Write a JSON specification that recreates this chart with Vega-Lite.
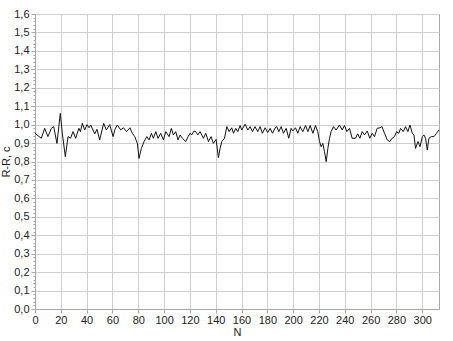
{
  "$schema": "https://vega.github.io/schema/vega-lite/v6.json",
  "autosize": "none",
  "width": 404,
  "height": 295,
  "padding": {"left": 35, "top": 14, "right": 14, "bottom": 32},
  "background": "white",
  "config": {
    "view": {"stroke": "#a8a8a8", "strokeWidth": 1},
    "font": "Liberation Sans",
    "axis": {
      "labelFont": "Liberation Sans",
      "labelFontSize": 11,
      "labelColor": "#222222",
      "titleFont": "Liberation Sans",
      "titleFontSize": 11,
      "titleFontWeight": "normal",
      "titleColor": "#222222",
      "gridColor": "#cfcfcf",
      "gridWidth": 1,
      "domainColor": "#a8a8a8",
      "tickColor": "#a8a8a8"
    }
  },
  "data": {
    "values": [
      {"N": 0, "v": 0.953}, {"N": 2.3, "v": 0.94}, {"N": 4.9, "v": 0.926}, {"N": 7.5, "v": 0.98},
      {"N": 10, "v": 0.935}, {"N": 12.7, "v": 0.98}, {"N": 14.5, "v": 0.989}, {"N": 17, "v": 0.898},
      {"N": 19.6, "v": 1.061}, {"N": 21.2, "v": 0.95}, {"N": 23.5, "v": 0.826}, {"N": 25.6, "v": 0.935},
      {"N": 27.5, "v": 0.926}, {"N": 29.5, "v": 0.962}, {"N": 31.5, "v": 0.926}, {"N": 34, "v": 0.98},
      {"N": 35.2, "v": 0.962}, {"N": 36.7, "v": 1.007}, {"N": 38.5, "v": 0.971}, {"N": 40.3, "v": 1.0},
      {"N": 41.9, "v": 0.983}, {"N": 43.2, "v": 0.998}, {"N": 46.3, "v": 0.95}, {"N": 48, "v": 0.975},
      {"N": 50.1, "v": 0.917}, {"N": 53.2, "v": 1.007}, {"N": 55.3, "v": 0.971}, {"N": 57.9, "v": 1.0},
      {"N": 60.5, "v": 0.935}, {"N": 62, "v": 0.975}, {"N": 63.8, "v": 0.998}, {"N": 66.4, "v": 0.971},
      {"N": 68.5, "v": 0.983}, {"N": 71, "v": 0.962}, {"N": 73.6, "v": 0.983}, {"N": 75.4, "v": 0.953},
      {"N": 77.3, "v": 0.935}, {"N": 79.3, "v": 0.898}, {"N": 80.6, "v": 0.817}, {"N": 82.4, "v": 0.871},
      {"N": 84.5, "v": 0.908}, {"N": 86.6, "v": 0.935}, {"N": 88.4, "v": 0.917}, {"N": 90.2, "v": 0.953},
      {"N": 91.7, "v": 0.926}, {"N": 93.6, "v": 0.962}, {"N": 95.3, "v": 0.926}, {"N": 97.4, "v": 0.953},
      {"N": 99.5, "v": 0.917}, {"N": 101.3, "v": 0.962}, {"N": 103.9, "v": 0.935}, {"N": 105.7, "v": 0.98},
      {"N": 107.2, "v": 0.944}, {"N": 109, "v": 0.962}, {"N": 110.8, "v": 0.917}, {"N": 112.4, "v": 0.944},
      {"N": 114.2, "v": 0.926}, {"N": 116.8, "v": 0.908}, {"N": 118.6, "v": 0.935}, {"N": 120.2, "v": 0.953},
      {"N": 121.4, "v": 0.944}, {"N": 123.2, "v": 0.965}, {"N": 124.5, "v": 0.962}, {"N": 126.1, "v": 0.944},
      {"N": 127.9, "v": 0.962}, {"N": 130.5, "v": 0.926}, {"N": 132.3, "v": 0.953}, {"N": 134.4, "v": 0.908},
      {"N": 136.4, "v": 0.935}, {"N": 138.2, "v": 0.898}, {"N": 140.3, "v": 0.92}, {"N": 142.1, "v": 0.821},
      {"N": 143.4, "v": 0.87}, {"N": 144.7, "v": 0.908}, {"N": 146.8, "v": 0.926}, {"N": 148.6, "v": 0.989},
      {"N": 150.4, "v": 0.962}, {"N": 152.4, "v": 0.983}, {"N": 153.8, "v": 0.953}, {"N": 155.5, "v": 0.98},
      {"N": 157.1, "v": 0.962}, {"N": 158.9, "v": 0.995}, {"N": 160.2, "v": 0.971}, {"N": 162.8, "v": 1.002},
      {"N": 164.9, "v": 0.971}, {"N": 166.7, "v": 0.989}, {"N": 168.5, "v": 0.962}, {"N": 170.5, "v": 0.989},
      {"N": 172.6, "v": 0.962}, {"N": 174.4, "v": 0.989}, {"N": 176.2, "v": 0.953}, {"N": 178.3, "v": 0.983},
      {"N": 180.3, "v": 0.958}, {"N": 182.2, "v": 0.98}, {"N": 184, "v": 0.953}, {"N": 186.1, "v": 0.983},
      {"N": 187.3, "v": 0.989}, {"N": 188.9, "v": 0.962}, {"N": 190.7, "v": 0.989}, {"N": 192.5, "v": 0.953},
      {"N": 194.6, "v": 0.98}, {"N": 196.6, "v": 0.926}, {"N": 198.4, "v": 0.98}, {"N": 199.7, "v": 0.965},
      {"N": 201.8, "v": 0.983}, {"N": 203.6, "v": 0.953}, {"N": 205.4, "v": 0.989}, {"N": 207.5, "v": 0.962},
      {"N": 209.6, "v": 0.995}, {"N": 211.4, "v": 0.962}, {"N": 213.2, "v": 0.995}, {"N": 215.3, "v": 0.953},
      {"N": 217.3, "v": 0.995}, {"N": 219.1, "v": 0.962}, {"N": 220.4, "v": 0.908}, {"N": 221.7, "v": 0.88},
      {"N": 223, "v": 0.898}, {"N": 224.3, "v": 0.853}, {"N": 225.6, "v": 0.799}, {"N": 226.9, "v": 0.871},
      {"N": 228.2, "v": 0.926}, {"N": 229.4, "v": 0.962}, {"N": 231.3, "v": 0.989}, {"N": 233.3, "v": 0.971},
      {"N": 235.9, "v": 0.998}, {"N": 238, "v": 0.971}, {"N": 239.8, "v": 0.995}, {"N": 241.6, "v": 0.962},
      {"N": 243.7, "v": 0.98}, {"N": 245.7, "v": 0.926}, {"N": 248.3, "v": 0.926}, {"N": 250, "v": 0.95},
      {"N": 251.7, "v": 0.926}, {"N": 253.5, "v": 0.962}, {"N": 255.3, "v": 0.944}, {"N": 257.4, "v": 0.965},
      {"N": 259.4, "v": 0.926}, {"N": 261.2, "v": 0.953}, {"N": 263, "v": 0.935}, {"N": 265.1, "v": 0.98},
      {"N": 267.2, "v": 0.983}, {"N": 268.8, "v": 0.989}, {"N": 270.8, "v": 0.953}, {"N": 272.9, "v": 0.917},
      {"N": 274.9, "v": 0.908}, {"N": 276.7, "v": 0.926}, {"N": 278.5, "v": 0.935}, {"N": 280.1, "v": 0.962},
      {"N": 281.9, "v": 0.953}, {"N": 283.2, "v": 0.98}, {"N": 285.3, "v": 0.962}, {"N": 287.1, "v": 0.989},
      {"N": 288.9, "v": 0.962}, {"N": 290.5, "v": 0.998}, {"N": 292.3, "v": 0.953}, {"N": 293.6, "v": 0.944},
      {"N": 294.8, "v": 0.871}, {"N": 296.7, "v": 0.908}, {"N": 298.3, "v": 0.88}, {"N": 300.1, "v": 0.935},
      {"N": 301.3, "v": 0.944}, {"N": 302.6, "v": 0.926}, {"N": 303.9, "v": 0.862}, {"N": 305.2, "v": 0.926},
      {"N": 307, "v": 0.935}, {"N": 309.1, "v": 0.935}, {"N": 311.1, "v": 0.953}, {"N": 312.9, "v": 0.971}
    ]
  },
  "mark": {"type": "line", "color": "#111111", "strokeWidth": 1},
  "encoding": {
    "x": {
      "field": "N",
      "type": "quantitative",
      "scale": {"domain": [0, 313], "nice": false},
      "axis": {
        "title": "N",
        "values": [0, 20, 40, 60, 80, 100, 120, 140, 160, 180, 200, 220, 240, 260, 280, 300],
        "tickSize": 4,
        "labelPadding": 1,
        "titlePadding": 1,
        "labelFlush": false
      }
    },
    "y": {
      "field": "v",
      "type": "quantitative",
      "scale": {"domain": [0, 1.6], "nice": false},
      "axis": {
        "title": "R-R, c",
        "values": [0, 0.02, 0.04, 0.06, 0.08, 0.1, 0.12, 0.14, 0.16, 0.18, 0.2, 0.22, 0.24, 0.26, 0.28, 0.3, 0.32, 0.34, 0.36, 0.38, 0.4, 0.42, 0.44, 0.46, 0.48, 0.5, 0.52, 0.54, 0.56, 0.58, 0.6, 0.62, 0.64, 0.66, 0.68, 0.7, 0.72, 0.74, 0.76, 0.78, 0.8, 0.82, 0.84, 0.86, 0.88, 0.9, 0.92, 0.94, 0.96, 0.98, 1.0, 1.02, 1.04, 1.06, 1.08, 1.1, 1.12, 1.14, 1.16, 1.18, 1.2, 1.22, 1.24, 1.26, 1.28, 1.3, 1.32, 1.34, 1.36, 1.38, 1.4, 1.42, 1.44, 1.46, 1.48, 1.5, 1.52, 1.54, 1.56, 1.58, 1.6],
        "labelExpr": "abs(round(datum.value * 50) % 5) == 0 ? replace(format(datum.value, '.1f'), '.', ',') : ''",
        "tickSize": {"condition": {"test": "abs(round(datum.value * 50) % 5) == 0", "value": 4}, "value": 2},
        "gridOpacity": {"condition": {"test": "abs(round(datum.value * 50) % 5) == 0", "value": 1}, "value": 0},
        "labelPadding": 2,
        "titlePadding": 2,
        "labelFlush": false,
        "labelOverlap": false
      }
    }
  }
}
